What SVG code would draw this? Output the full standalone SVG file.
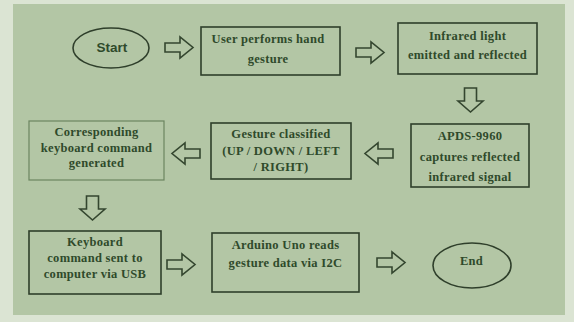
<svg xmlns="http://www.w3.org/2000/svg" xmlns:xlink="http://www.w3.org/1999/xlink" width="574" height="322" viewBox="0 0 574 322">
<style>
.box{fill:none;stroke:#2f3f2b;stroke-width:1.6}
.box2{fill:none;stroke:#6b8560;stroke-width:1.2}
.ell{fill:none;stroke:#2f3f2b;stroke-width:1.6}
.arr{fill:none;stroke:#34462f;stroke-width:1.6;stroke-linejoin:miter}
.t{font-family:"Liberation Serif","Times New Roman",serif;font-weight:bold;font-size:12.5px;fill:#2f4a2b;text-anchor:middle;letter-spacing:0.3px}
.s{font-family:"Liberation Sans",Arial,sans-serif;font-weight:bold;font-size:13.5px;fill:#2f4a2b;text-anchor:middle}
</style>
<defs>
<path id="ra" d="M0,6 H15 V0 L28,10.5 L15,21 V15 H0 Z"/>
<path id="da" d="M6.5,0 H18.5 V13 H25 L12.5,24 L0,13 H6.5 Z"/>
</defs>
<rect x="0" y="0" width="574" height="322" fill="#dbe4d3"/>
<rect x="13" y="4" width="552" height="311" fill="#b3c6a5"/>
<g id="connectors">
<use xlink:href="#ra" class="arr" transform="translate(165,37)"/>
<use xlink:href="#ra" class="arr" transform="translate(356,42)"/>
<use xlink:href="#da" class="arr" transform="translate(458,88)"/>
<use xlink:href="#ra" class="arr" transform="translate(393,143) scale(-1,1)"/>
<use xlink:href="#ra" class="arr" transform="translate(200,143) scale(-1,1)"/>
<use xlink:href="#da" class="arr" transform="translate(80,196)"/>
<use xlink:href="#ra" class="arr" transform="translate(167,254)"/>
<use xlink:href="#ra" class="arr" transform="translate(377,252)"/>
</g>
<g id="start">
<ellipse class="ell" cx="111" cy="48" rx="38" ry="20"/>
<text class="s" x="112" y="52">Start</text>
</g>
<g id="user">
<rect class="box" x="201" y="27" width="139" height="48"/>
<text class="t" x="268" y="43">User performs hand</text>
<text class="t" x="268" y="63">gesture</text>
</g>
<g id="infrared">
<rect class="box" x="398" y="23" width="139" height="51"/>
<text class="t" x="467.5" y="40">Infrared light</text>
<text class="t" x="467.5" y="59">emitted and reflected</text>
</g>
<g id="apds">
<rect class="box" x="411" y="124" width="118" height="63"/>
<text class="t" x="470" y="140">APDS-9960</text>
<text class="t" x="470" y="161">captures reflected</text>
<text class="t" x="470" y="181">infrared signal</text>
</g>
<g id="classified">
<rect class="box" x="211" y="123" width="140" height="56"/>
<text class="t" x="281" y="138">Gesture classified</text>
<text class="t" x="281" y="155">(UP / DOWN / LEFT</text>
<text class="t" x="281" y="171">/ RIGHT)</text>
</g>
<g id="corresponding">
<rect class="box2" x="29" y="121" width="135" height="59"/>
<text class="t" x="96.5" y="136">Corresponding</text>
<text class="t" x="96.5" y="152">keyboard command</text>
<text class="t" x="96.5" y="167">generated</text>
</g>
<g id="keyboard">
<rect class="box" x="29" y="231" width="132" height="63"/>
<text class="t" x="95" y="246">Keyboard</text>
<text class="t" x="95" y="262">command sent to</text>
<text class="t" x="95" y="278">computer via USB</text>
</g>
<g id="arduino">
<rect class="box" x="212" y="233" width="147" height="59"/>
<text class="t" x="285.5" y="249">Arduino Uno reads</text>
<text class="t" x="285.5" y="267">gesture data via I2C</text>
</g>
<g id="end">
<ellipse class="ell" cx="472" cy="265.5" rx="39" ry="22.5"/>
<text class="t" x="471.5" y="265">End</text>
</g>
</svg>
